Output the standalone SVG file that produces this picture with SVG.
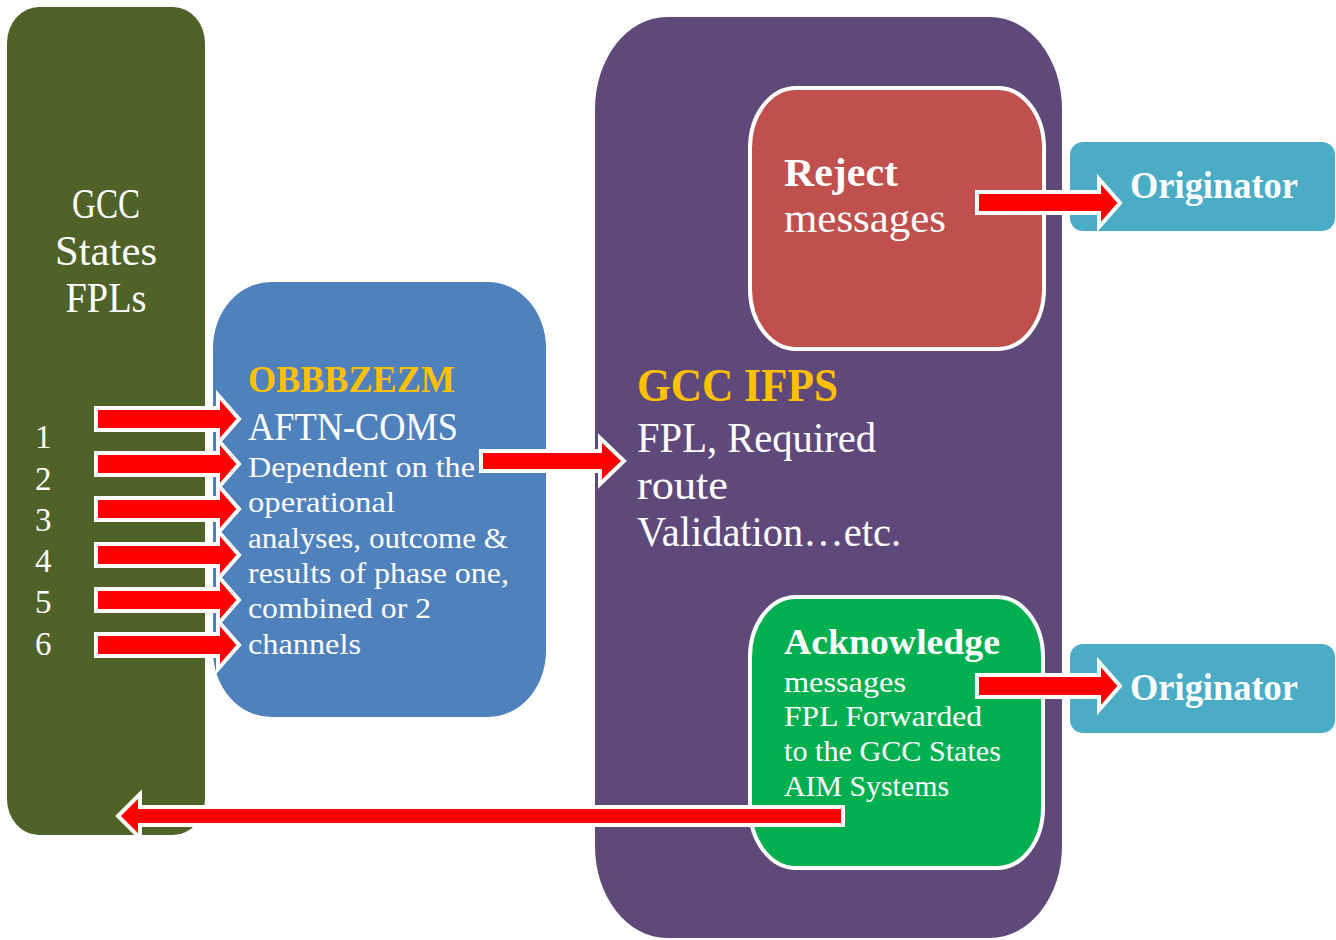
<svg xmlns="http://www.w3.org/2000/svg" width="1336" height="940" viewBox="0 0 1336 940">
  <style>
    text { font-family: "Liberation Serif", "DejaVu Serif", serif; fill: #ffffff; }
    .b { font-weight: bold; }
    .gold { fill: #FFC000; }
    .arrow { fill: #FF0000; stroke: #ffffff; stroke-width: 4; stroke-linejoin: miter; }
    .inner { stroke: #ffffff; stroke-width: 4; }
  </style>
  <rect width="1336" height="940" fill="#ffffff"/>

  <g id="gcc-states">
    <rect x="7" y="7" width="198" height="828" rx="32" ry="36" fill="#4F6228"/>
    <text x="106" y="218" font-size="42" text-anchor="middle" textLength="68" lengthAdjust="spacingAndGlyphs">GCC</text>
    <text x="106" y="265" font-size="42" text-anchor="middle" textLength="102" lengthAdjust="spacingAndGlyphs">States</text>
    <text x="106" y="312" font-size="42" text-anchor="middle" textLength="81" lengthAdjust="spacingAndGlyphs">FPLs</text>
    <text x="35" y="448" font-size="33">1</text>
    <text x="35" y="490" font-size="33">2</text>
    <text x="35" y="531" font-size="33">3</text>
    <text x="35" y="572" font-size="33">4</text>
    <text x="35" y="613" font-size="33">5</text>
    <text x="35" y="655" font-size="33">6</text>
  </g>

  <g id="aftn-coms">
    <rect x="213" y="282" width="333" height="435" rx="58" ry="66" fill="#4F81BD"/>
    <text class="b gold" x="248" y="392" font-size="38" textLength="207" lengthAdjust="spacingAndGlyphs">OBBBZEZM</text>
    <text x="248" y="440" font-size="40" textLength="210" lengthAdjust="spacingAndGlyphs">AFTN-COMS</text>
    <text x="248" y="477" font-size="29" textLength="227" lengthAdjust="spacingAndGlyphs">Dependent on the</text>
    <text x="248" y="512" font-size="29" textLength="147" lengthAdjust="spacingAndGlyphs">operational</text>
    <text x="248" y="548" font-size="29" textLength="260" lengthAdjust="spacingAndGlyphs">analyses, outcome &amp;</text>
    <text x="248" y="583" font-size="29" textLength="261" lengthAdjust="spacingAndGlyphs">results of phase one,</text>
    <text x="248" y="618" font-size="29" textLength="183" lengthAdjust="spacingAndGlyphs">combined or 2</text>
    <text x="248" y="654" font-size="29" textLength="113" lengthAdjust="spacingAndGlyphs">channels</text>
  </g>

  <g id="gcc-ifps">
    <rect x="595" y="17" width="467" height="921" rx="72" ry="92" fill="#5F497A"/>
    <text class="b gold" x="637" y="401" font-size="46" textLength="201" lengthAdjust="spacingAndGlyphs">GCC IFPS</text>
    <text x="637" y="452" font-size="42" textLength="239" lengthAdjust="spacingAndGlyphs">FPL, Required</text>
    <text x="637" y="499" font-size="42" textLength="91" lengthAdjust="spacingAndGlyphs">route</text>
    <text x="637" y="546" font-size="42" textLength="264" lengthAdjust="spacingAndGlyphs">Validation…etc.</text>
  </g>

  <g id="reject">
    <rect class="inner" x="750" y="88" width="294" height="261" rx="46" ry="60" fill="#C0504D"/>
    <text class="b" x="784" y="186" font-size="40" textLength="114" lengthAdjust="spacingAndGlyphs">Reject</text>
    <text x="784" y="232" font-size="40" textLength="162" lengthAdjust="spacingAndGlyphs">messages</text>
  </g>

  <g id="acknowledge">
    <rect class="inner" x="750" y="597" width="293" height="271" rx="46" ry="60" fill="#00B050"/>
    <text class="b" x="784" y="654" font-size="35" textLength="216" lengthAdjust="spacingAndGlyphs">Acknowledge</text>
    <text x="784" y="692" font-size="30" textLength="122" lengthAdjust="spacingAndGlyphs">messages</text>
    <text x="784" y="726" font-size="30" textLength="198" lengthAdjust="spacingAndGlyphs">FPL Forwarded</text>
    <text x="784" y="761" font-size="30" textLength="217" lengthAdjust="spacingAndGlyphs">to the GCC States</text>
    <text x="784" y="796" font-size="30" textLength="165" lengthAdjust="spacingAndGlyphs">AIM Systems</text>
  </g>

  <g id="originator-reject">
    <rect x="1070" y="142" width="265" height="89" rx="13" fill="#4BACC6"/>
    <text class="b" x="1130" y="198" font-size="37" textLength="168" lengthAdjust="spacingAndGlyphs">Originator</text>
  </g>

  <g id="originator-ack">
    <rect x="1070" y="644" width="265" height="89" rx="13" fill="#4BACC6"/>
    <text class="b" x="1130" y="700" font-size="37" textLength="168" lengthAdjust="spacingAndGlyphs">Originator</text>
  </g>

  <g id="connectors">
    <!-- six input channels into AFTN-COMS -->
    <path class="arrow" d="M96,408 H218 V395 L239,419 L218,443 V430 H96 Z"/>
    <path class="arrow" d="M96,453 H218 V440 L239,464 L218,488 V475 H96 Z"/>
    <path class="arrow" d="M96,498 H218 V485 L239,509 L218,533 V520 H96 Z"/>
    <path class="arrow" d="M96,544 H218 V531 L239,555 L218,579 V566 H96 Z"/>
    <path class="arrow" d="M96,589 H218 V576 L239,600 L218,624 V611 H96 Z"/>
    <path class="arrow" d="M96,634 H218 V621 L239,645 L218,669 V656 H96 Z"/>
    <!-- AFTN-COMS to IFPS -->
    <path class="arrow" d="M481,451 H600 V438 L624,461 L600,484 V471 H481 Z"/>
    <!-- reject / acknowledge to originator -->
    <path class="arrow" d="M977,192 H1099 V179 L1120,203 L1099,227 V213 H977 Z"/>
    <path class="arrow" d="M977,675 H1099 V662 L1120,686 L1099,710 V697 H977 Z"/>
    <!-- acknowledge back to GCC states -->
    <path class="arrow" d="M843,807 H140 V794 L118,816 L140,838 V825 H843 Z"/>
  </g>
</svg>
